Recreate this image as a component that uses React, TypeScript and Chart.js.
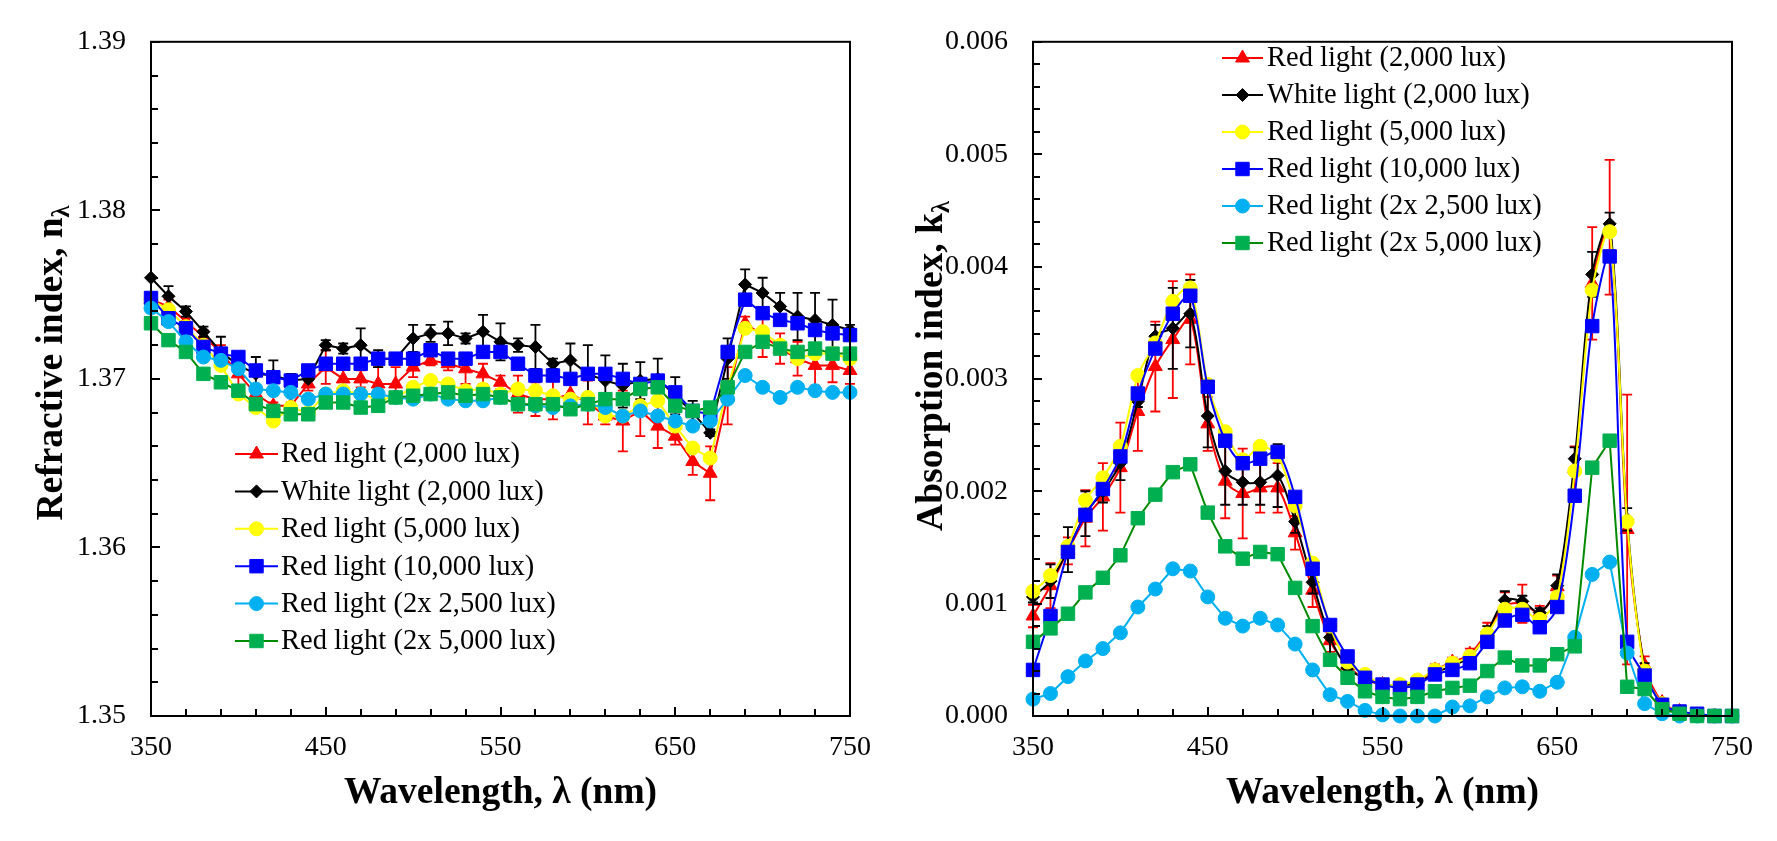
import React, { useEffect, useRef } from "react";
import { Chart, registerables } from "chart.js";

Chart.register(...registerables);

const FONT = '"Liberation Serif", "Times New Roman", Times, serif';

// ---------- shared x categories / ticks ----------
const WAVELENGTHS = [350, 360, 370, 380, 390, 400, 410, 420, 430, 440, 450, 460, 470, 480, 490, 500, 510, 520, 530, 540, 550, 560, 570, 580, 590, 600, 610, 620, 630, 640, 650, 660, 670, 680, 690, 700, 710, 720, 730, 740, 750];
const X_TICKS = [350, 450, 550, 650, 750];
const X_MINOR_STEP = 20;

const SERIES_LABELS = [
  "Red light (2,000 lux)",
  "White light (2,000 lux)",
  "Red light (5,000 lux)",
  "Red light (10,000 lux)",
  "Red light (2x 2,500 lux)",
  "Red light (2x 5,000 lux)",
];

// ---------- left chart: refractive index ----------
const N_TICKS = [1.35, 1.36, 1.37, 1.38, 1.39];
const N_MINOR_STEP = 0.002;

const N_RED_2000 = [1.3747, 1.3743, 1.3734, 1.3725, 1.3716, 1.3703, 1.3691, 1.3684, 1.3684, 1.3697, 1.3707, 1.3700, 1.3700, 1.3697, 1.3697, 1.3707, 1.3711, 1.3709, 1.3706, 1.3703, 1.3698, 1.3691, 1.3688, 1.3688, 1.3691, 1.3686, 1.3678, 1.3675, 1.3681, 1.3672, 1.3666, 1.3651, 1.3644, 1.3690, 1.3733, 1.3726, 1.3718, 1.3712, 1.3708, 1.3708, 1.3705];
const N_RED_2000_ERR = [0.0003, 0.0004, 0.0002, 0.0004, 0.0004, 0.0008, 0.0003, 0.0002, 0.0002, 0.0004, 0.0010, 0.0006, 0.0005, 0.0010, 0.0010, 0.0006, 0.0003, 0.0004, 0.0009, 0.0006, 0.0004, 0.0011, 0.0010, 0.0012, 0.0006, 0.0013, 0.0005, 0.0018, 0.0015, 0.0013, 0.0005, 0.0008, 0.0016, 0.0017, 0.0004, 0.0013, 0.0009, 0.0010, 0.0012, 0.0010, 0.0008];
const N_WHITE_2000 = [1.3760, 1.3749, 1.3740, 1.3728, 1.3716, 1.3708, 1.3703, 1.3702, 1.3699, 1.3700, 1.3720, 1.3718, 1.3720, 1.3712, 1.3712, 1.3724, 1.3727, 1.3727, 1.3724, 1.3728, 1.3722, 1.3720, 1.3719, 1.3709, 1.3711, 1.3703, 1.3699, 1.3696, 1.3699, 1.3700, 1.3690, 1.3680, 1.3668, 1.3712, 1.3756, 1.3751, 1.3743, 1.3737, 1.3735, 1.3732, 1.3729];
const N_WHITE_2000_ERR = [0, 0.0006, 0.0003, 0.0003, 0.0009, 0.0004, 0.0010, 0.0009, 0.0004, 0.0001, 0.0003, 0.0003, 0.0010, 0.0005, 0.0003, 0.0008, 0.0005, 0.0007, 0.0003, 0.0010, 0.0011, 0.0004, 0.0013, 0.0003, 0.0010, 0.0017, 0.0015, 0.0013, 0.0011, 0.0012, 0.0011, 0.0007, 0.0002, 0.0012, 0.0009, 0.0009, 0.0008, 0.0014, 0.0016, 0.0015, 0.0003];
const N_RED_5000 = [1.3747, 1.3741, 1.3731, 1.3720, 1.3708, 1.3691, 1.3683, 1.3675, 1.3683, 1.3680, 1.3691, 1.3693, 1.3691, 1.3688, 1.3689, 1.3695, 1.3699, 1.3697, 1.3693, 1.3694, 1.3691, 1.3694, 1.3693, 1.3690, 1.3688, 1.3689, 1.3678, 1.3678, 1.3684, 1.3687, 1.3672, 1.3659, 1.3653, 1.3695, 1.3730, 1.3728, 1.3720, 1.3712, 1.3715, 1.3715, 1.3712];
const N_RED_10000 = [1.3748, 1.3736, 1.3730, 1.3719, 1.3715, 1.3713, 1.3705, 1.3701, 1.3699, 1.3705, 1.3709, 1.3709, 1.3709, 1.3712, 1.3712, 1.3712, 1.3717, 1.3712, 1.3712, 1.3716, 1.3716, 1.3709, 1.3702, 1.3702, 1.3700, 1.3703, 1.3703, 1.3700, 1.3697, 1.3699, 1.3692, 1.3681, 1.3679, 1.3716, 1.3747, 1.3739, 1.3735, 1.3733, 1.3729, 1.3727, 1.3726];
const N_RED_2X2500 = [1.3742, 1.3734, 1.3722, 1.3713, 1.3711, 1.3706, 1.3694, 1.3693, 1.3692, 1.3688, 1.3691, 1.3691, 1.3691, 1.3691, 1.3689, 1.3688, 1.3691, 1.3688, 1.3687, 1.3687, 1.3689, 1.3685, 1.3684, 1.3683, 1.3684, 1.3685, 1.3683, 1.3678, 1.3681, 1.3678, 1.3675, 1.3672, 1.3675, 1.3688, 1.3702, 1.3695, 1.3689, 1.3695, 1.3693, 1.3692, 1.3692];
const N_RED_2X5000 = [1.3733, 1.3723, 1.3716, 1.3703, 1.3698, 1.3693, 1.3685, 1.3681, 1.3679, 1.3679, 1.3686, 1.3686, 1.3683, 1.3684, 1.3689, 1.3690, 1.3691, 1.3692, 1.3690, 1.3691, 1.3689, 1.3685, 1.3685, 1.3685, 1.3682, 1.3685, 1.3688, 1.3688, 1.3694, 1.3695, 1.3684, 1.3681, 1.3683, 1.3695, 1.3716, 1.3722, 1.3718, 1.3716, 1.3718, 1.3715, 1.3715];

// ---------- right chart: absorption index ----------
const K_TICKS = [0, 0.001, 0.002, 0.003, 0.004, 0.005, 0.006];
const K_MINOR_STEP = 0.0002;

const K_RED_2000 = [0.00089, 0.00116, 0.00147, 0.00176, 0.00195, 0.00221, 0.00271, 0.00311, 0.00335, 0.00353, 0.00260, 0.00209, 0.00198, 0.00203, 0.00203, 0.00163, 0.00112, 0.00067, 0.00045, 0.00033, 0.00028, 0.00027, 0.00031, 0.00041, 0.00048, 0.00055, 0.00075, 0.00098, 0.00100, 0.00092, 0.00115, 0.00220, 0.00385, 0.00435, 0.00166, 0.00045, 0.00012, 0.00004, 0.00001, 0, 0];
const K_RED_2000_ERR = [0.0001, 0.0002, 0.00012, 0.00025, 0.0003, 0.0004, 0.00035, 0.0004, 0.00052, 0.0004, 0.00024, 0.00033, 0.0004, 0.00022, 0.00022, 0.00015, 0.00015, 0.0001, 0.00005, 0.00003, 0.00002, 0.00002, 0.00003, 0.00005, 0.00004, 0.00005, 0.00008, 0.00012, 0.00017, 0.00006, 0.0001, 0.0002, 0.0005, 0.0006, 0.0012, 0.00008, 0.00003, 0.00002, 0.00001, 0, 0];
const K_WHITE_2000 = [0.00106, 0.00120, 0.00148, 0.00180, 0.00200, 0.00225, 0.00280, 0.00338, 0.00345, 0.00358, 0.00267, 0.00218, 0.00208, 0.00208, 0.00214, 0.00173, 0.00119, 0.00070, 0.00043, 0.00033, 0.00028, 0.00027, 0.00030, 0.00038, 0.00045, 0.00052, 0.00075, 0.00103, 0.00102, 0.00092, 0.00116, 0.00229, 0.00393, 0.00438, 0.00175, 0.00042, 0.00010, 0.00003, 0.00001, 0, 0];
const K_WHITE_2000_ERR = [0.00005, 0.00015, 0.0002, 0.0002, 0.0001, 0.00015, 0.00005, 0.0001, 0.00036, 0.0003, 0.00028, 0.0003, 0.0002, 0.0002, 0.00028, 0.0001, 0.0001, 0.00015, 0.00005, 0.00003, 0.00002, 0.00002, 0.00003, 0.00003, 0.00005, 0.00004, 0.00005, 0.00008, 0.00005, 0.00004, 0.0001, 0.0001, 0.0002, 0.0001, 0.0001, 0.00005, 0.00002, 0.00001, 0, 0, 0];
const K_RED_5000 = [0.00111, 0.00125, 0.00151, 0.00192, 0.00212, 0.00240, 0.00303, 0.00332, 0.00369, 0.00381, 0.00295, 0.00253, 0.00228, 0.00240, 0.00232, 0.00187, 0.00136, 0.00080, 0.00048, 0.00037, 0.00028, 0.00028, 0.00032, 0.00041, 0.00047, 0.00053, 0.00073, 0.00095, 0.00095, 0.00086, 0.00106, 0.00218, 0.00379, 0.00431, 0.00173, 0.00040, 0.00011, 0.00003, 0.00001, 0, 0];
const K_RED_10000 = [0.00041, 0.00089, 0.00146, 0.00179, 0.00202, 0.00231, 0.00287, 0.00327, 0.00358, 0.00374, 0.00293, 0.00245, 0.00225, 0.00229, 0.00235, 0.00195, 0.00131, 0.00081, 0.00053, 0.00034, 0.00028, 0.00025, 0.00028, 0.00037, 0.00041, 0.00047, 0.00066, 0.00085, 0.00090, 0.00079, 0.00097, 0.00196, 0.00347, 0.00409, 0.00066, 0.00036, 0.00010, 0.00004, 0.00002, 0, 0];
const K_RED_2X2500 = [0.00015, 0.00020, 0.00035, 0.00049, 0.00060, 0.00074, 0.00097, 0.00113, 0.00131, 0.00129, 0.00106, 0.00087, 0.00080, 0.00087, 0.00081, 0.00064, 0.00041, 0.00019, 0.00013, 0.00005, 0.00001, 0, 0, 0, 0.00008, 0.00009, 0.00017, 0.00025, 0.00026, 0.00022, 0.00030, 0.00070, 0.00126, 0.00137, 0.00056, 0.00011, 0.00002, 0, 0, 0, 0];
const K_RED_2X5000 = [0.00066, 0.00078, 0.00091, 0.00110, 0.00123, 0.00143, 0.00176, 0.00197, 0.00217, 0.00224, 0.00181, 0.00151, 0.00140, 0.00146, 0.00144, 0.00114, 0.00080, 0.00050, 0.00034, 0.00022, 0.00017, 0.00015, 0.00017, 0.00022, 0.00025, 0.00027, 0.00040, 0.00052, 0.00045, 0.00045, 0.00055, 0.00062, 0.00221, 0.00245, 0.00026, 0.00024, 0.00006, 0.00002, 0, 0, 0];

// ---------- styles ----------
const STYLES = [
  { line: "#FF0000", fill: "#FF0000", style: "triangle", radius: 8 },
  { line: "#000000", fill: "#000000", style: "rectRot", radius: 6.5 },
  { line: "#FFFF00", fill: "#FFFF00", style: "circle", radius: 7 },
  { line: "#0000FF", fill: "#0000FF", style: "rect", radius: 9.5 },
  { line: "#00B0F0", fill: "#00B0F0", style: "circle", radius: 7 },
  { line: "#008A00", fill: "#00B050", style: "rect", radius: 9.5 },
];

function buildSeries(values: number[][], errors: (number[] | null)[], tensions: number[]) {
  return values.map((v, i) => ({
    label: SERIES_LABELS[i],
    values: v,
    errors: errors[i],
    tension: tensions[i],
    ...STYLES[i],
  }));
}

const LEFT_CFG = {
  series: buildSeries(
    [N_RED_2000, N_WHITE_2000, N_RED_5000, N_RED_10000, N_RED_2X2500, N_RED_2X5000],
    [N_RED_2000_ERR, N_WHITE_2000_ERR, null, null, null, null],
    [0, 0, 0, 0, 0, 0]
  ),
  yTicks: N_TICKS,
  yMinor: N_MINOR_STEP,
  decimals: 2,
  canvasWidth: 888,
  padRight: 38,
  yAxisWidth: 151,
  yTitleMain: "Refractive index, n",
  yTitleSub: "λ",
  yTitleX: 62,
  yTitleCY: 363,
  legendLineX0: 235,
  legendLineX1: 278,
  legendTextX: 281,
  legendY0: 454,
  legendGap: 37.4,
};

const RIGHT_CFG = {
  series: buildSeries(
    [K_RED_2000, K_WHITE_2000, K_RED_5000, K_RED_10000, K_RED_2X2500, K_RED_2X5000],
    [K_RED_2000_ERR, K_WHITE_2000_ERR, null, null, null, null],
    [0.3, 0.3, 0.3, 0.3, 0, 0]
  ),
  yTicks: K_TICKS,
  yMinor: K_MINOR_STEP,
  decimals: 3,
  canvasWidth: 889,
  padRight: 45,
  yAxisWidth: 145,
  yTitleMain: "Absorption index, k",
  yTitleSub: "λ",
  yTitleX: 54,
  yTitleCY: 366,
  legendLineX0: 334,
  legendLineX1: 375,
  legendTextX: 379,
  legendY0: 58,
  legendGap: 37,
};

const TOP = 27;
const BOTTOM = 716;
const HEIGHT = 841;
const TICK_FONT = 28;
const LEGEND_FONT = 28.5;
const TITLE_FONT = 37.5;

function drawMarker(ctx: CanvasRenderingContext2D, style: string, x: number, y: number, r: number, color: string) {
  ctx.beginPath();
  if (style === "circle") {
    ctx.arc(x, y, r, 0, Math.PI * 2);
  } else if (style === "rect") {
    const s = r * Math.SQRT1_2;
    ctx.rect(x - s, y - s, 2 * s, 2 * s);
  } else if (style === "rectRot") {
    ctx.moveTo(x - r, y);
    ctx.lineTo(x, y - r);
    ctx.lineTo(x + r, y);
    ctx.lineTo(x, y + r);
    ctx.closePath();
  } else if (style === "triangle") {
    let rad = 0;
    const t = (2 * Math.PI) / 3;
    ctx.moveTo(x + Math.sin(rad) * r, y - Math.cos(rad) * r);
    rad += t;
    ctx.lineTo(x + Math.sin(rad) * r, y - Math.cos(rad) * r);
    rad += t;
    ctx.lineTo(x + Math.sin(rad) * r, y - Math.cos(rad) * r);
    ctx.closePath();
  }
  ctx.fillStyle = color;
  ctx.fill();
  ctx.lineWidth = 1;
  ctx.strokeStyle = color;
  ctx.stroke();
}

function makeDecor(cfg: any) {
  return {
    id: "decor",
    afterDatasetDraw(chart: any, args: any) {
      const s = cfg.series[args.index];
      if (!s || !s.errors) return;
      const ctx = chart.ctx as CanvasRenderingContext2D;
      const ys = chart.scales.y;
      const ca = chart.chartArea;
      ctx.save();
      ctx.beginPath();
      ctx.rect(ca.left - 12, ca.top - 1, ca.right - ca.left + 24, ca.bottom - ca.top + 1);
      ctx.clip();
      ctx.strokeStyle = s.line;
      ctx.lineWidth = 1.8;
      args.meta.data.forEach((pt: any, i: number) => {
        const e = s.errors[i];
        if (!e) return;
        const v = s.values[i];
        const t = ys.getPixelForValue(v + e);
        const b = ys.getPixelForValue(v - e);
        ctx.beginPath();
        ctx.moveTo(pt.x, t);
        ctx.lineTo(pt.x, b);
        ctx.moveTo(pt.x - 5, t);
        ctx.lineTo(pt.x + 5, t);
        ctx.moveTo(pt.x - 5, b);
        ctx.lineTo(pt.x + 5, b);
        ctx.stroke();
      });
      ctx.restore();
    },
    afterDraw(chart: any) {
      const ctx = chart.ctx as CanvasRenderingContext2D;
      const ca = chart.chartArea;
      const xs = chart.scales.x;
      const ys = chart.scales.y;
      ctx.save();
      // frame
      ctx.strokeStyle = "#000";
      ctx.lineWidth = 2;
      ctx.strokeRect(ca.left, ca.top, ca.right - ca.left, ca.bottom - ca.top);
      // inside ticks
      ctx.beginPath();
      const xMin = X_TICKS[0];
      const xMax = X_TICKS[X_TICKS.length - 1];
      const nx = Math.round((xMax - xMin) / X_MINOR_STEP);
      for (let k = 0; k <= nx; k++) {
        const v = xMin + k * X_MINOR_STEP;
        const major = X_TICKS.some((t) => Math.abs(t - v) < 1e-9);
        const px = Math.round(xs.getPixelForValue(v));
        ctx.moveTo(px, ca.bottom);
        ctx.lineTo(px, ca.bottom - (major ? 9 : 7));
      }
      const yMin = cfg.yTicks[0];
      const yMax = cfg.yTicks[cfg.yTicks.length - 1];
      const ny = Math.round((yMax - yMin) / cfg.yMinor);
      for (let k = 0; k <= ny; k++) {
        const v = yMin + k * cfg.yMinor;
        const major = cfg.yTicks.some((t: number) => Math.abs(t - v) < cfg.yMinor / 10);
        const py = Math.round(ys.getPixelForValue(v));
        ctx.moveTo(ca.left, py);
        ctx.lineTo(ca.left + (major ? 9 : 7), py);
      }
      ctx.stroke();

      // x title
      ctx.fillStyle = "#000";
      ctx.font = `bold ${TITLE_FONT}px ${FONT}`;
      ctx.textAlign = "center";
      ctx.textBaseline = "alphabetic";
      ctx.fillText("Wavelength, λ (nm)", (ca.left + ca.right) / 2, 803);

      // y title with subscript
      ctx.save();
      ctx.translate(cfg.yTitleX, cfg.yTitleCY);
      ctx.rotate(-Math.PI / 2);
      ctx.textAlign = "left";
      ctx.font = `bold ${TITLE_FONT}px ${FONT}`;
      const mainW = ctx.measureText(cfg.yTitleMain).width;
      ctx.font = `bold ${TITLE_FONT * 0.65}px ${FONT}`;
      const subW = ctx.measureText(cfg.yTitleSub).width;
      const sx = -(mainW + subW) / 2;
      ctx.font = `bold ${TITLE_FONT}px ${FONT}`;
      ctx.fillText(cfg.yTitleMain, sx, 0);
      ctx.font = `bold ${TITLE_FONT * 0.65}px ${FONT}`;
      ctx.fillText(cfg.yTitleSub, sx + mainW, 7);
      ctx.restore();

      // legend
      cfg.series.forEach((s: any, i: number) => {
        const y = cfg.legendY0 + i * cfg.legendGap;
        ctx.strokeStyle = s.line;
        ctx.lineWidth = 2;
        ctx.beginPath();
        ctx.moveTo(cfg.legendLineX0, y);
        ctx.lineTo(cfg.legendLineX1, y);
        ctx.stroke();
        drawMarker(ctx, s.style, (cfg.legendLineX0 + cfg.legendLineX1) / 2, y, s.radius, s.fill);
        ctx.fillStyle = "#000";
        ctx.font = `${LEGEND_FONT}px ${FONT}`;
        ctx.textAlign = "left";
        ctx.textBaseline = "middle";
        ctx.fillText(s.label, cfg.legendTextX, y + 1);
      });
      ctx.restore();
    },
  };
}

function buildConfig(cfg: any): any {
  const n = cfg.series.length;
  return {
    type: "line",
    data: {
      datasets: cfg.series.map((s: any, i: number) => ({
        label: s.label,
        data: WAVELENGTHS.map((x, j) => ({ x, y: s.values[j] })),
        borderColor: s.line,
        backgroundColor: s.fill,
        pointBackgroundColor: s.fill,
        pointBorderColor: s.fill,
        pointBorderWidth: 1,
        pointStyle: s.style,
        pointRadius: s.radius,
        pointHoverRadius: s.radius,
        borderWidth: 2,
        tension: s.tension,
        fill: false,
        clip: false,
        order: n - i,
      })),
    },
    options: {
      responsive: false,
      animation: false,
      devicePixelRatio: 1,
      events: [],
      layout: { padding: { top: TOP, right: cfg.padRight, left: 0, bottom: 0 } },
      plugins: { legend: { display: false }, tooltip: { enabled: false }, title: { display: false } },
      scales: {
        x: {
          type: "linear",
          min: X_TICKS[0],
          max: X_TICKS[X_TICKS.length - 1],
          afterBuildTicks: (axis: any) => {
            axis.ticks = X_TICKS.map((v) => ({ value: v }));
          },
          afterFit: (scale: any) => {
            scale.height = HEIGHT - BOTTOM;
          },
          grid: { display: false, drawTicks: false },
          border: { display: false },
          ticks: {
            font: { family: FONT, size: TICK_FONT },
            color: "#000",
            padding: 15,
            maxRotation: 0,
            autoSkip: false,
            callback: (v: any) => String(v),
          },
        },
        y: {
          type: "linear",
          min: cfg.yTicks[0],
          max: cfg.yTicks[cfg.yTicks.length - 1],
          afterBuildTicks: (axis: any) => {
            axis.ticks = cfg.yTicks.map((v: number) => ({ value: v }));
          },
          afterFit: (scale: any) => {
            scale.width = cfg.yAxisWidth;
          },
          grid: { display: false, drawTicks: false },
          border: { display: false },
          ticks: {
            font: { family: FONT, size: TICK_FONT },
            color: "#000",
            padding: 25,
            autoSkip: false,
            callback: (v: any) => Number(v).toFixed(cfg.decimals),
          },
        },
      },
    },
    plugins: [makeDecor(cfg)],
  };
}

function ChartCanvas({ cfg, left }: { cfg: any; left: number }) {
  const ref = useRef<HTMLCanvasElement>(null);
  useEffect(() => {
    const chart = new Chart(ref.current as HTMLCanvasElement, buildConfig(cfg));
    return () => chart.destroy();
  }, [cfg]);
  return (
    <canvas
      ref={ref}
      width={cfg.canvasWidth}
      height={HEIGHT}
      style={{ position: "absolute", left, top: 0, width: cfg.canvasWidth, height: HEIGHT }}
    />
  );
}

export default function App() {
  return (
    <div style={{ position: "fixed", left: 0, top: 0, width: 1777, height: HEIGHT, background: "#fff" }}>
      <ChartCanvas cfg={LEFT_CFG} left={0} />
      <ChartCanvas cfg={RIGHT_CFG} left={888} />
    </div>
  );
}
